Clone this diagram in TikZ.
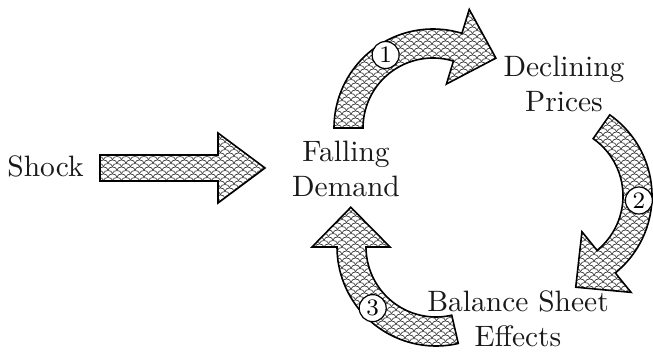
\documentclass[tikz,border=0pt]{standalone}
\usepackage{graphicx}
\usetikzlibrary{calc,patterns}
\pgfdeclarepatternformonly{fishscale}{\pgfpoint{-5pt}{-1pt}}{\pgfpoint{10pt}{8pt}}{\pgfpoint{9pt}{7pt}}{%
  \pgfsetlinewidth{0.7pt}%
  \pgfpathmoveto{\pgfpoint{0pt}{0pt}}%
  \pgfpathcurveto{\pgfpoint{1pt}{4pt}}{\pgfpoint{8pt}{4pt}}{\pgfpoint{9pt}{0pt}}%
  \pgfpathmoveto{\pgfpoint{-4.5pt}{3.5pt}}%
  \pgfpathcurveto{\pgfpoint{-3.5pt}{7.5pt}}{\pgfpoint{3.5pt}{7.5pt}}{\pgfpoint{4.5pt}{3.5pt}}%
  \pgfusepath{stroke}}
\newcommand\bigtxt[1]{\scalebox{2.95}{\begin{tabular}[b]{@{}c@{}}#1\end{tabular}}}
\tikzset{
  arrowshape/.style={draw=black, line width=1.6pt, line join=miter, pattern=fishscale, pattern color=black!75},
  txt/.style={inner sep=0pt, anchor=base, text=black!90},
  numlabel/.style={circle, draw=black, line width=1.2pt, fill=white, minimum size=27pt, inner sep=0pt}
}
\newcommand\cyclearrow[4]{%
  \draw[arrowshape] ($(#1)+(#2:99)$) arc[start angle=#2, end angle=#3, radius=99]
    -- ($(#1)+(#3:124)$) -- ($(#1)+(#4:94)$) -- ($(#1)+(#3:46)$)
    -- ($(#1)+(#3:70)$) arc[start angle=#3, end angle=#2, radius=70] -- cycle;}
\begin{document}
\begin{tikzpicture}[x=1pt,y=1pt]
\useasboundingbox (0,0) rectangle (653,352);
% text nodes
\node[txt] (shock) at (45.5,175) {\bigtxt{Shock}};
\node[txt] (falling) at (346,155.3) {\bigtxt{Falling\\Demand}};
\node[txt] (declining) at (564,240.3) {\bigtxt{Declining\\Prices}};
\node[txt] (balance) at (518,5) {\bigtxt{Balance Sheet\\Effects}};
% arc centres
\coordinate (c1) at (433,224);
\coordinate (c2) at (553,156);
\coordinate (c3) at (436,105);
% straight arrow
\draw[arrowshape] (100,197) -- (218,197) -- (218,219) -- (265,184) -- (218,149) -- (218,171) -- (100,171) -- cycle;
% cycle arrows
\cyclearrow{c1}{180}{73}{48}
\cyclearrow{c2}{55}{-51}{-76}
\cyclearrow{c3}{283}{180}{155}
% numbers
\node[numlabel] (n1) at ($(c1)+(123:87)$) {\scalebox{2.95}{\footnotesize 1}};
\node[numlabel] (n2) at ($(c2)+(-3:86)$) {\scalebox{2.95}{\footnotesize 2}};
\node[numlabel] (n3) at ($(c3)+(224:88)$) {\scalebox{2.95}{\footnotesize 3}};
\end{tikzpicture}
\end{document}
